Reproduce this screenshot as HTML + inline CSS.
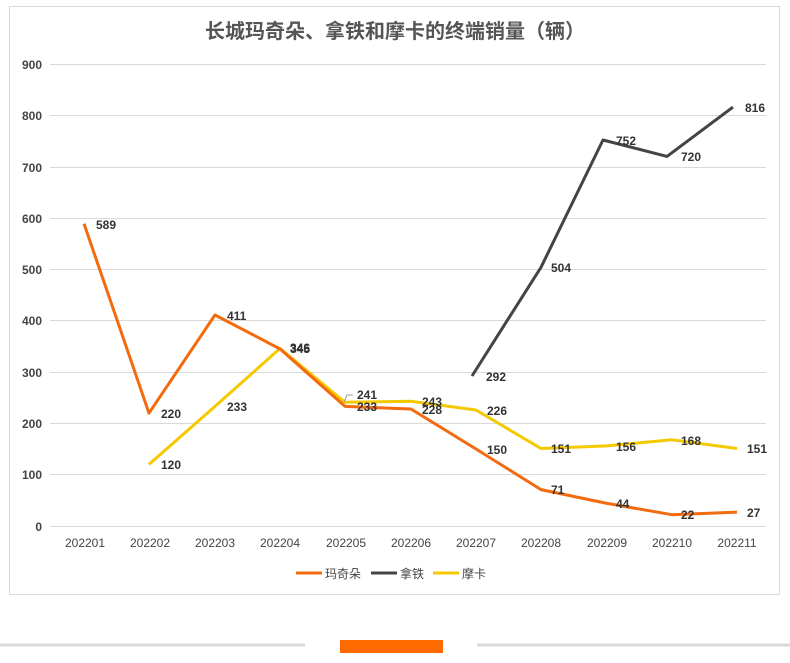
<!DOCTYPE html>
<html><head><meta charset="utf-8"><style>
body{margin:0;background:#fff;width:790px;height:658px;overflow:hidden}
text{font-family:"Liberation Sans","Noto Sans CJK SC",sans-serif}
</style></head><body>
<svg width="790" height="658" xmlns="http://www.w3.org/2000/svg">
<rect x="9.5" y="6.5" width="770" height="588" fill="#fff" stroke="#d9d9d9"/>
<text x="395" y="38" text-anchor="middle" font-size="20" fill="#555" font-weight="bold">长城玛奇朵、拿铁和摩卡的终端销量（辆）</text>
<g stroke="#d9d9d9" stroke-width="1">
<line x1="50" x2="766" y1="64.5" y2="64.5"/><line x1="50" x2="766" y1="115.5" y2="115.5"/>
<line x1="50" x2="766" y1="167.5" y2="167.5"/><line x1="50" x2="766" y1="218.5" y2="218.5"/>
<line x1="50" x2="766" y1="269.5" y2="269.5"/><line x1="50" x2="766" y1="320.5" y2="320.5"/>
<line x1="50" x2="766" y1="372.5" y2="372.5"/><line x1="50" x2="766" y1="423.5" y2="423.5"/>
<line x1="50" x2="766" y1="474.5" y2="474.5"/><line x1="50" x2="766" y1="526.5" y2="526.5"/>
</g>
<g font-size="12" fill="#444" text-anchor="end" font-weight="bold">
<text x="42" y="69">900</text><text x="42" y="120">800</text><text x="42" y="172">700</text>
<text x="42" y="223">600</text><text x="42" y="274">500</text><text x="42" y="325">400</text>
<text x="42" y="377">300</text><text x="42" y="428">200</text><text x="42" y="479">100</text>
<text x="42" y="531">0</text>
</g>
<g font-size="12" fill="#444" text-anchor="middle">
<text x="85" y="547">202201</text><text x="150" y="547">202202</text><text x="215" y="547">202203</text>
<text x="280" y="547">202204</text><text x="346" y="547">202205</text><text x="411" y="547">202206</text>
<text x="476" y="547">202207</text><text x="541" y="547">202208</text><text x="607" y="547">202209</text>
<text x="672" y="547">202210</text><text x="737" y="547">202211</text>
</g>
<polyline fill="none" stroke="#f5c900" stroke-width="3" stroke-linejoin="round" points="149,464.4 215,406.4 280,348.4 345,402.3 411,401.3 476,410 541,448.5 607,445.9 672,439.8 737,448.5"/>
<polyline fill="none" stroke="#f26b0f" stroke-width="3" stroke-linejoin="round" points="84,223.7 149,413.1 215,315 280,348.9 345,406.4 411,409 476,449 541,489.6 607,503.4 672,514.7 737,512.1"/>
<polyline fill="none" stroke="#444" stroke-width="3" stroke-linejoin="round" points="472,376 541,267.3 603,140 667,156.4 733,107.1"/>
<path d="M344,402 l3,-7 h6" fill="none" stroke="#999"/>
<g font-size="12" fill="#333" font-weight="bold">
<text x="96" y="229">589</text><text x="161" y="418">220</text><text x="227" y="320">411</text>
<text x="290" y="353">345</text><text x="357" y="411">233</text><text x="422" y="414">228</text>
<text x="487" y="454">150</text><text x="551" y="494">71</text><text x="616" y="508">44</text>
<text x="681" y="519">22</text><text x="747" y="517">27</text>
<text x="161" y="469">120</text><text x="227" y="411">233</text><text x="290" y="352">346</text>
<text x="357" y="399">241</text><text x="422" y="406">243</text><text x="487" y="415">226</text>
<text x="551" y="453">151</text><text x="616" y="451">156</text><text x="681" y="445">168</text>
<text x="747" y="453">151</text>
<text x="486" y="381">292</text><text x="551" y="272">504</text><text x="616" y="145">752</text>
<text x="681" y="161">720</text><text x="745" y="112">816</text>
</g>
<line x1="296" x2="322" y1="573" y2="573" stroke="#f26b0f" stroke-width="3"/>
<text x="325" y="578" font-size="12" fill="#444">玛奇朵</text>
<line x1="371" x2="397" y1="573" y2="573" stroke="#444" stroke-width="3"/>
<text x="400" y="578" font-size="12" fill="#444">拿铁</text>
<line x1="433" x2="459" y1="573" y2="573" stroke="#f5c900" stroke-width="3"/>
<text x="462" y="578" font-size="12" fill="#444">摩卡</text>
<line x1="0" x2="305" y1="645" y2="645" stroke="#d9d9d9" stroke-width="3"/>
<line x1="477" x2="790" y1="645" y2="645" stroke="#d9d9d9" stroke-width="3"/>
<rect x="340" y="640" width="103" height="13" fill="#ff6a00"/>
</svg>
</body></html>
